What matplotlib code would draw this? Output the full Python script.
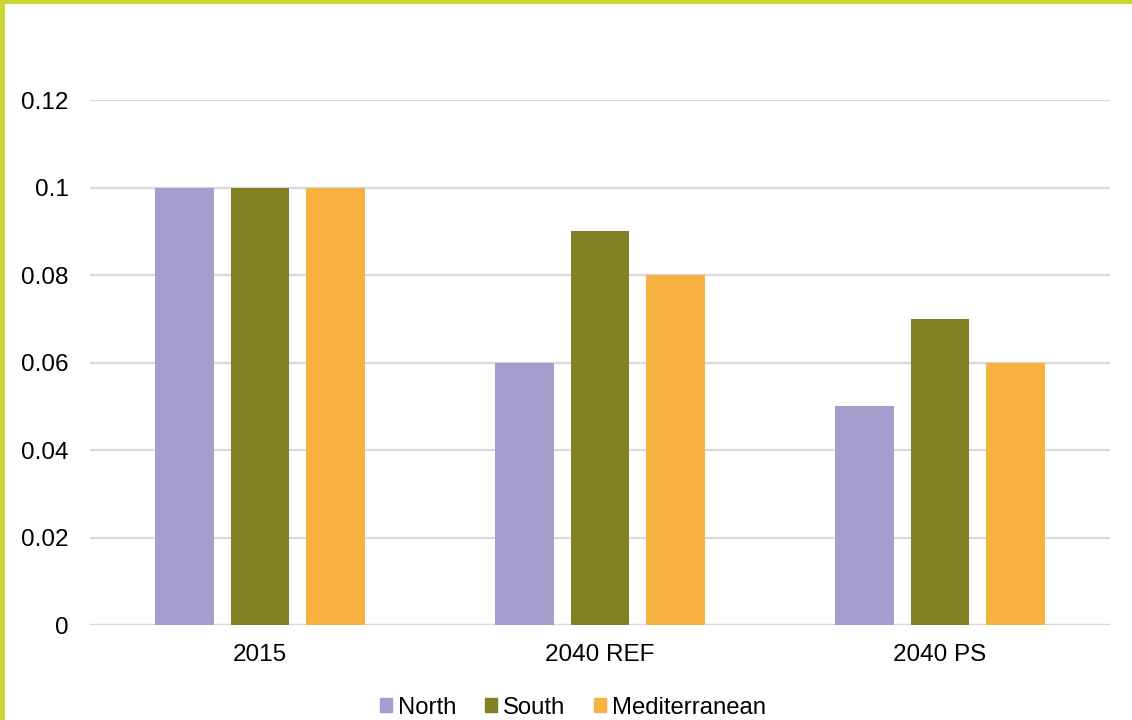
import matplotlib
matplotlib.use("Agg")
import matplotlib.pyplot as plt
import numpy as np
from matplotlib.patches import Rectangle
from matplotlib.lines import Line2D

plt.rcParams['font.family'] = ['Liberation Sans', 'DejaVu Sans']

categories = ["2015", "2040 REF", "2040 PS"]
series_names = ["North", "South", "Mediterranean"]
north = [0.10, 0.06, 0.05]
south = [0.10, 0.09, 0.07]
mediterranean = [0.10, 0.08, 0.06]
yticks = [0, 0.02, 0.04, 0.06, 0.08, 0.1, 0.12]
ytick_labels = ["0", "0.02", "0.04", "0.06", "0.08", "0.1", "0.12"]

colors = ["#A69CCD", "#838021", "#F7B242"]
border = "#C8D62E"

fig = plt.figure(figsize=(11.32, 7.2), dpi=100)
ax = fig.add_axes([0.0795, 0.1319, 0.9011, 0.7292])

x = np.arange(len(categories))
width = 0.171
offset = 0.222
for i, (vals, name) in enumerate(zip([north, south, mediterranean], series_names)):
    ax.bar(x + (i - 1) * offset, vals, width, color=colors[i], label=name, zorder=3)

ax.set_xlim(-0.5, len(categories) - 0.5)
ax.set_ylim(0, 0.12)
ax.set_yticks(yticks)
ax.set_yticklabels(ytick_labels)
ax.set_xticks(x)
ax.set_xticklabels(categories)
ax.tick_params(axis='both', length=0, labelsize=17.5, colors="#000000")
ax.tick_params(axis='y', pad=15.5)
ax.tick_params(axis='x', pad=14)
ax.yaxis.grid(True, color="#D9D9D9", linewidth=1.6, zorder=0)
ax.set_axisbelow(True)
for s in ax.spines.values():
    s.set_visible(False)
ax.axhline(0, color="#D9D9D9", linewidth=1.6, zorder=2)

handles = [Rectangle((0, 0), 1, 1, color=c) for c in colors]
fig.legend(handles, series_names, loc="center", bbox_to_anchor=(0.506, 0.017),
           ncol=3, frameon=False, fontsize=17.2, handlelength=0.5, handleheight=0.5,
           handletextpad=0.25, columnspacing=1.2)

# frame accent lines along the top and left edges
fig.add_artist(Line2D([0, 1], [0.9975, 0.9975], transform=fig.transFigure,
                      color=border, linewidth=3))
fig.add_artist(Line2D([0.0018, 0.0018], [0, 1], transform=fig.transFigure,
                      color=border, linewidth=3.5))

fig.savefig("out.png", dpi=100, facecolor="white")
